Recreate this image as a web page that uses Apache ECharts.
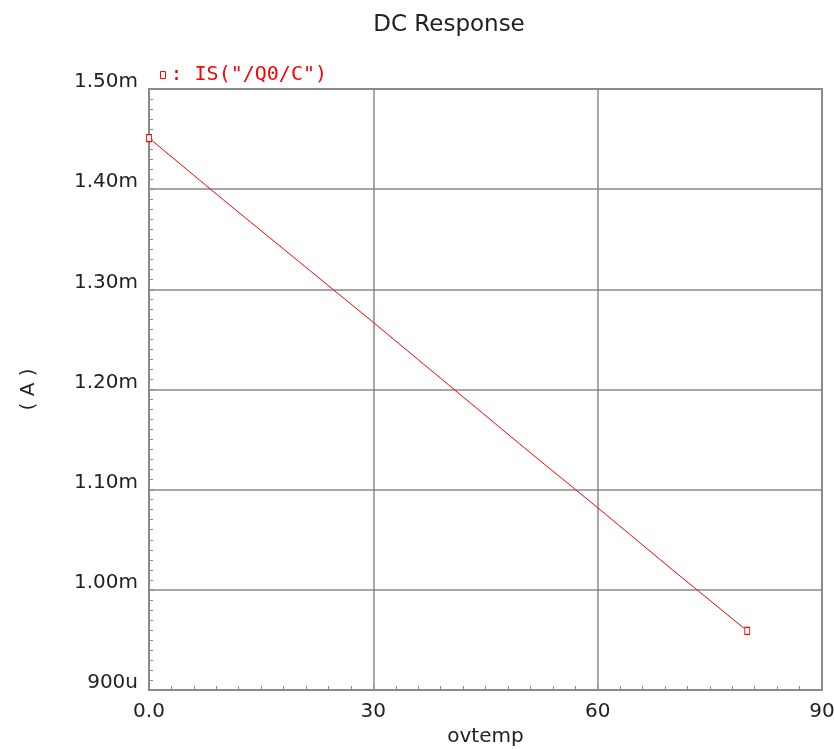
<style>body{margin:0}</style>
<script src="https://cdn.jsdelivr.net/npm/echarts@6/dist/echarts.min.js"></script>
<div id="main" style="width:834px;height:749px"></div>
<script type="text/javascript">
    var myChart = echarts.init(document.getElementById('main'));
    // ovtemp sweep and collector current (mA)
    var temps = [0, 10, 20, 30, 40, 50, 60, 70, 80];
    var current = [1.451, 1.389, 1.328, 1.267, 1.205, 1.143, 1.082, 1.020, 0.959];
    var xTicks = [0, 30, 60, 90];
    var yTicks = [0.9, 1.0, 1.1, 1.2, 1.3, 1.4, 1.5];

    var pts = [];
    for (var i = 0; i < temps.length; i++) {
        pts.push({
            value: [temps[i], current[i]],
            symbolSize: (i == 0 || i == temps.length - 1) ? [5, 7] : 0
        });
    }

    var txt = {color: '#222', fontFamily: 'DejaVu Sans', fontSize: 20};
    var option = {
        animation: false,
        backgroundColor: '#fff',
        title: {
            text: 'DC Response',
            left: 449,
            top: 2,
            padding: 0,
            textAlign: 'center',
            textStyle: {color: '#222', fontFamily: 'DejaVu Sans', fontSize: 23, fontWeight: 'normal'}
        },
        legend: {
            left: 155,
            top: 52,
            icon: 'rect',
            itemWidth: 5,
            itemHeight: 7,
            itemGap: 9,
            textStyle: {color: '#ff0000', fontFamily: 'DejaVu Sans Mono', fontSize: 20},
            data: [{name: ': IS("/Q0/C")', itemStyle: {color: '#fff', borderColor: '#ff0000', borderWidth: 1}}]
        },
        grid: {
            left: 149, right: 12, top: 89, bottom: 59,
            outerBoundsMode: 'none',
            show: true, borderColor: '#8a8a8a', borderWidth: 2, backgroundColor: '#fff'
        },
        xAxis: {
            type: 'value',
            min: 0, max: 90, interval: 30,
            name: 'ovtemp',
            nameLocation: 'middle',
            nameGap: 27,
            nameMoveOverlap: false,
            nameTextStyle: txt,
            axisLine: {lineStyle: {color: '#8a8a8a', width: 2}},
            axisTick: {inside: true, length: 5, lineStyle: {color: '#8a8a8a'}},
            minorTick: {show: true, splitNumber: 10, length: 4, lineStyle: {color: '#8a8a8a'}},
            splitLine: {lineStyle: {color: '#8a8a8a', width: 1.5}},
            axisLabel: Object.assign({margin: 2, formatter: function (v) {
                return v == 0 ? '0.0' : String(v);
            }}, txt)
        },
        yAxis: {
            type: 'value',
            min: 0.9, max: 1.5, interval: 0.1,
            name: '( A )',
            nameLocation: 'middle',
            nameGap: 100,
            nameRotate: 90,
            nameMoveOverlap: false,
            nameTextStyle: txt,
            axisLine: {lineStyle: {color: '#8a8a8a', width: 2}},
            axisTick: {inside: true, length: 5, lineStyle: {color: '#8a8a8a'}},
            minorTick: {show: true, splitNumber: 10, length: 4, lineStyle: {color: '#8a8a8a'}},
            splitLine: {lineStyle: {color: '#8a8a8a', width: 1.5}},
            axisLabel: Object.assign({margin: 11, verticalAlign: 'bottom', lineHeight: 14, formatter: function (v) {
                if (v < 0.95) return Math.round(v * 1000) + 'u';
                return v.toFixed(2) + 'm';
            }}, txt)
        },
        series: [{
            name: ': IS("/Q0/C")',
            type: 'line',
            data: pts,
            symbol: 'rect',
            showAllSymbol: true,
            itemStyle: {color: '#fff', borderColor: '#ff0000', borderWidth: 1},
            lineStyle: {color: '#ff0000', width: 1}
        }]
    };
    myChart.setOption(option);
</script>
